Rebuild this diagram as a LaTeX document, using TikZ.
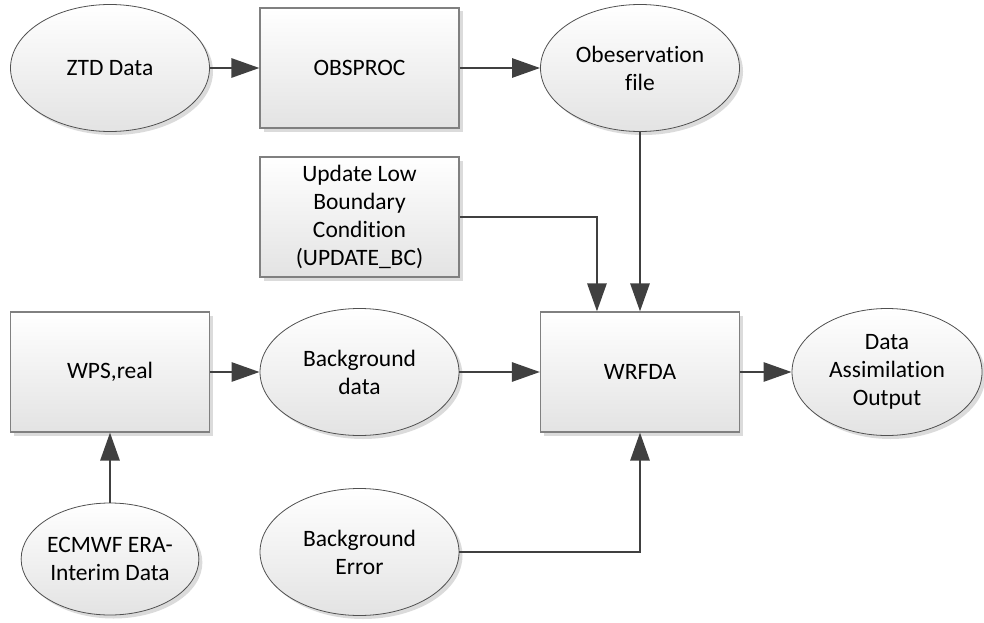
\documentclass[tikz,border=0pt]{standalone}
\usepackage{fontspec}
\setmainfont[Ligatures={NoCommon}]{Carlito}
\usetikzlibrary{shapes.geometric,shadows,arrows.meta}
\definecolor{lineclr}{HTML}{404040}
\definecolor{boxedge}{HTML}{808080}
\definecolor{elledge}{HTML}{505050}
\tikzset{
  common/.style={top color=white, bottom color=black!11, inner sep=0pt, align=center,
    font=\fontsize{23.5}{28}\selectfont,
    drop shadow={shadow xshift=3.5pt, shadow yshift=-3.5pt, fill=black!14, opacity=1}},
  procbox/.style={common, rectangle, draw=boxedge, line width=1.1pt, minimum width=199pt, minimum height=120pt},
  databubble/.style={common, ellipse, draw=elledge, line width=0.8pt, minimum width=199pt, minimum height=127pt},
  flow/.style={draw=lineclr, line width=2.8pt, -{Triangle[length=28pt,width=19pt]}}
}
\begin{document}
\begin{tikzpicture}[x=1pt,y=-1pt]
\useasboundingbox (0,0) rectangle (984,623);
\node[databubble] (ztd) at (110,68) {ZTD Data};
\node[procbox] (obsp) at (359.5,68) {OBSPROC};
\node[databubble] (obs) at (640,68) {Obeservation\\file};
\node[procbox] (upd) at (359.5,217) {Update Low\\Boundary\\Condition\\(UPDATE\_BC)};
\node[procbox] (wps) at (110,372) {WPS,real};
\node[databubble] (bgd) at (359.5,372) {Background\\data};
\node[procbox] (wrf) at (640,372) {WRFDA};
\node[databubble, minimum width=190pt] (out) at (887,372) {Data\\Assimilation\\Output};
\node[databubble, minimum width=177pt, minimum height=112pt] (ecm) at (110,559) {ECMWF ERA-\\Interim Data};
\node[databubble] (berr) at (359.5,552) {Background\\Error};

\draw[flow] (ztd.east) -- (obsp.west);
\draw[flow] (obsp.east) -- (obs.west);
\draw[flow] (obs.south) -- (wrf.north);
\draw[flow] (upd.east) -| ([xshift=57pt]wrf.north west);
\draw[flow] (wps.east) -- (bgd.west);
\draw[flow] (bgd.east) -- (wrf.west);
\draw[flow] (wrf.east) -- (out.west);
\draw[flow] (ecm.north) -- (wps.south);
\draw[flow] (berr.east) -| (wrf.south);
\end{tikzpicture}
\end{document}
